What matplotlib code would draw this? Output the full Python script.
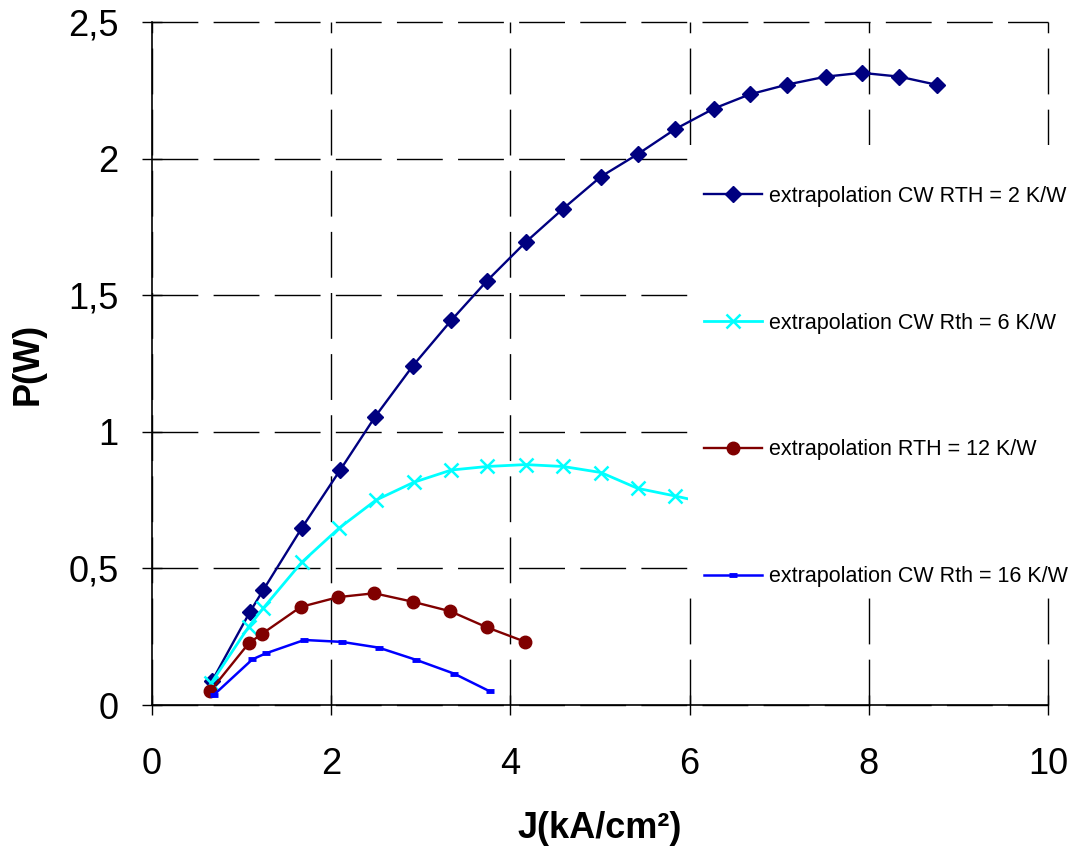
import matplotlib
matplotlib.use('Agg')
import matplotlib.pyplot as plt
from matplotlib.patches import Rectangle
from matplotlib.ticker import FuncFormatter

plt.rcParams['font.family'] = ['Liberation Sans', 'DejaVu Sans']

# --- data ---
j_rth2 = [0.67, 1.09, 1.24, 1.67, 2.10, 2.49, 2.91, 3.34, 3.74, 4.17, 4.59,
          5.01, 5.42, 5.84, 6.27, 6.67, 7.09, 7.52, 7.92, 8.34, 8.76]
p_rth2 = [0.088, 0.339, 0.420, 0.647, 0.860, 1.055, 1.241, 1.408, 1.553, 1.694, 1.817,
          1.934, 2.016, 2.108, 2.183, 2.235, 2.271, 2.300, 2.314, 2.300, 2.270]

j_rth6 = [0.66, 1.08, 1.24, 1.67, 2.09, 2.50, 2.92, 3.34, 3.74, 4.17, 4.59,
          5.01, 5.42, 5.84, 6.25]
p_rth6 = [0.080, 0.287, 0.354, 0.522, 0.648, 0.750, 0.815, 0.860, 0.873, 0.880, 0.873,
          0.851, 0.793, 0.765, 0.735]

j_rth12 = [0.65, 1.08, 1.23, 1.66, 2.08, 2.48, 2.91, 3.33, 3.74, 4.16]
p_rth12 = [0.051, 0.226, 0.261, 0.359, 0.395, 0.409, 0.378, 0.343, 0.284, 0.232]

j_rth16 = [0.69, 1.12, 1.27, 1.70, 2.12, 2.53, 2.95, 3.37, 3.77]
p_rth16 = [0.037, 0.167, 0.189, 0.238, 0.231, 0.210, 0.165, 0.115, 0.050]

labels = ["extrapolation CW RTH = 2 K/W",
          "extrapolation CW Rth = 6 K/W",
          "extrapolation RTH = 12 K/W",
          "extrapolation CW Rth = 16 K/W"]

x_ticks = [0, 2, 4, 6, 8, 10]
y_ticks = [0, 0.5, 1, 1.5, 2, 2.5]

# --- figure ---
W, H = 1072, 847
fig = plt.figure(figsize=(W / 100, H / 100), dpi=100)
ax = fig.add_axes([152 / W, 1 - 705 / H, 896 / W, 683 / H])

ax.plot(j_rth2, p_rth2, color='#000080', lw=1.7, marker='D', ms=8,
        mec='#000080', mfc='#000080', label=labels[0])
ax.plot(j_rth6, p_rth6, color='#00FFFF', lw=2.0, marker='x', ms=10, mew=1.8,
        label=labels[1])
ax.plot(j_rth12, p_rth12, color='#800000', lw=1.7, marker='o', ms=9,
        label=labels[2])
ax.plot(j_rth16, p_rth16, color='#0000FF', lw=1.8, marker='_', ms=6, mew=3.5,
        label=labels[3])

ax.set_xlim(0, 10)
ax.set_ylim(0, 2.5)
ax.set_xticks(x_ticks)
ax.set_yticks(y_ticks)
ax.yaxis.set_major_formatter(FuncFormatter(lambda v, p: f"{v:g}".replace('.', ',')))

for s in ['top', 'right']:
    ax.spines[s].set_visible(False)
for s in ['left', 'bottom']:
    ax.spines[s].set_linewidth(1.2)
    ax.spines[s].set_color('black')

ax.grid(True, color='black', lw=1.0, linestyle=(0, (33, 11)))
for gl in ax.get_xgridlines() + ax.get_ygridlines():
    gl.set_clip_on(False)

ax.tick_params(axis='both', direction='inout', length=14, width=1.0, labelsize=26)
ax.tick_params(axis='x', pad=23)
ax.tick_params(axis='y', pad=17)

ax.set_xlabel("J(kA/cm²)", fontsize=26, fontweight='bold')
ax.set_ylabel("P(W)", fontsize=26, fontweight='bold')
ax.xaxis.set_label_coords(0.5, (705 - 828) / 683)
ax.xaxis.label.set_va('center')
ax.yaxis.set_label_coords((28 - 152) / 896, 0.5)
ax.yaxis.label.set_va('center')

# white legend area covering the right part of the plot
cover = Rectangle((688 / W, 1 - 595 / H), (W - 688) / W, (595 - 145) / H,
                  transform=fig.transFigure, facecolor='white', edgecolor='none',
                  zorder=4, clip_on=False)
ax.add_artist(cover)

leg = ax.legend(loc='upper left', bbox_to_anchor=(704 / W, 1 - 186 / H),
                bbox_transform=fig.transFigure, frameon=False, fontsize=15.5,
                handlelength=2.7, handletextpad=0.3, labelspacing=4.91,
                borderpad=0, borderaxespad=0)
leg.set_zorder(5)

fig.savefig('out.png', dpi=100, facecolor='white')
